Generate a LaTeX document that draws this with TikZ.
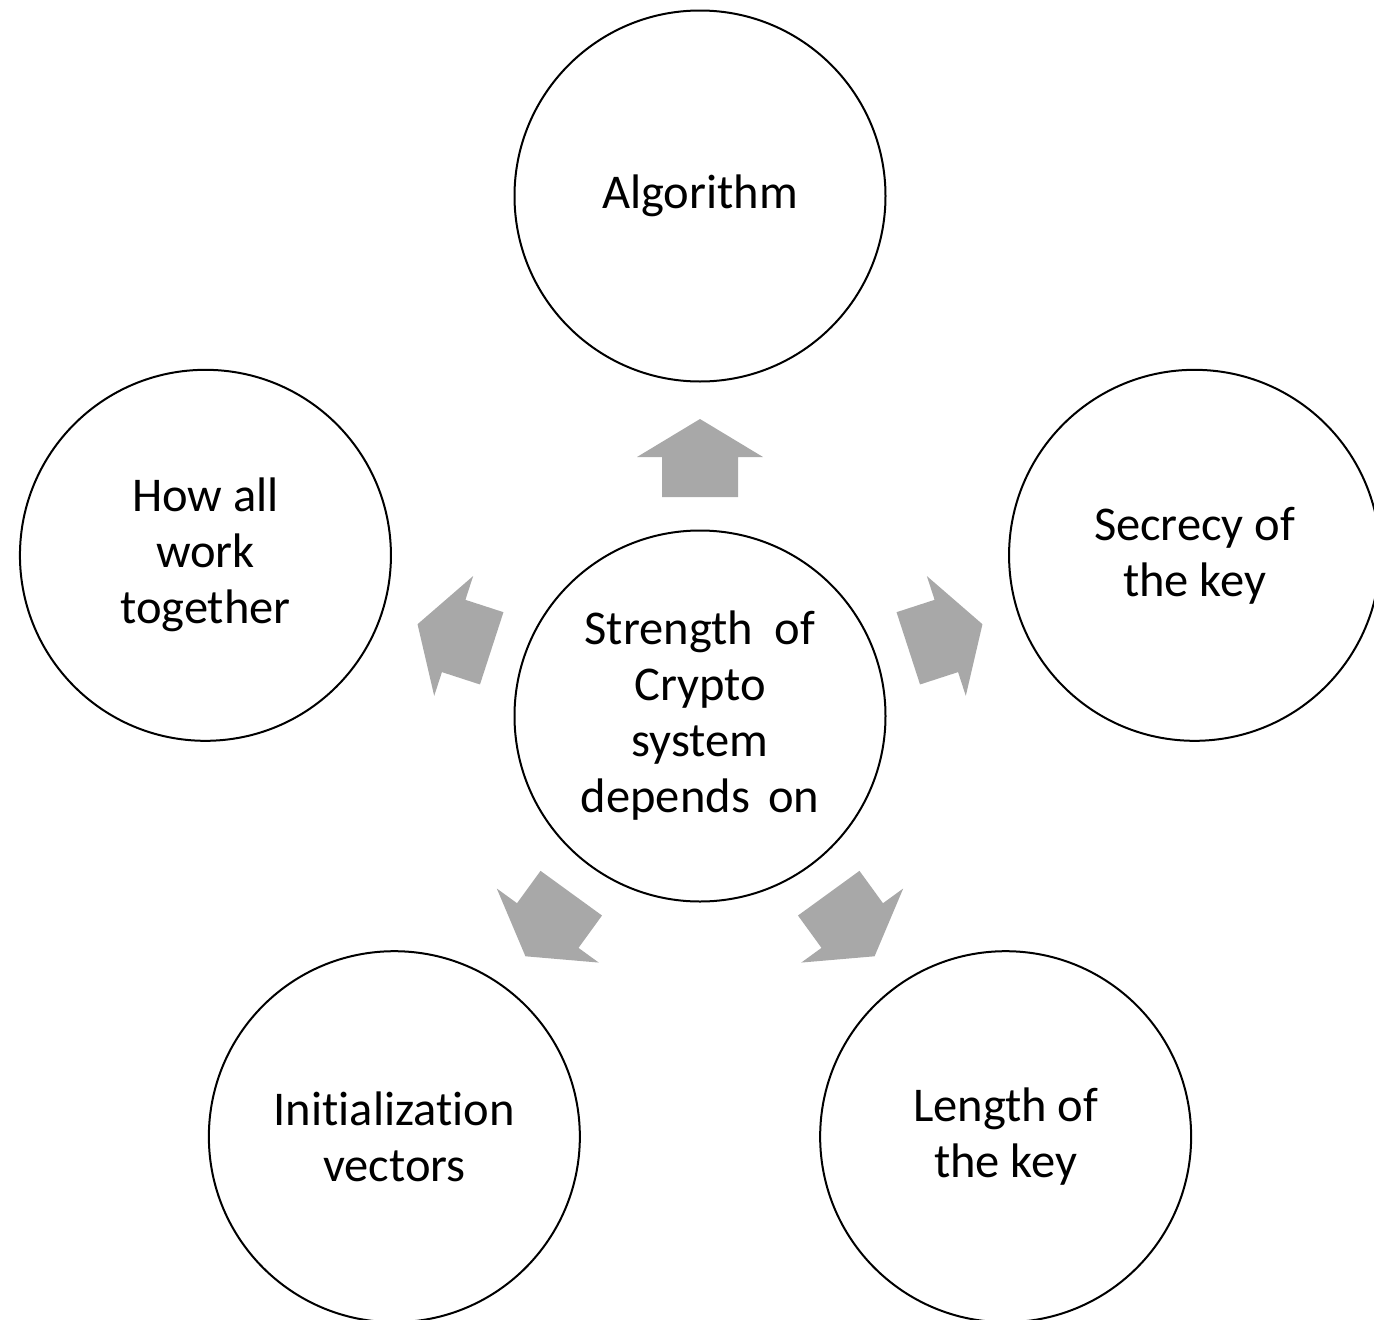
\documentclass[tikz,border=0pt]{standalone}
\usepackage{fontspec}
\setmainfont[Ligatures={NoCommon}]{Carlito}
\usetikzlibrary{calc}
\begin{document}
\begin{tikzpicture}[x=1pt,y=1pt,
  bubble/.style={circle, draw=black, line width=2pt, minimum size=371pt,
    inner sep=0pt, align=center, font=\fontsize{48.5}{56}\selectfont},
  blockarrow/.style={fill=arrowgray, draw=none}]
\definecolor{arrowgray}{RGB}{168,168,168}
\useasboundingbox (0,-1320) rectangle (1374,0);

% hub
\node[bubble] (hub) at (700,-716)
  {Strength\hspace{22pt}of\\Crypto\\system\\depends\hspace{18pt}on};

% satellites on a pentagon around the hub
\node[bubble] (alg) at ($(hub.center)+(90:520)$) {Algorithm};
\node[bubble] (sec) at ($(hub.center)+(18:520)$) {Secrecy of\\the key};
\node[bubble] (len) at ($(hub.center)+(-54:520)$) {Length of\\the key};
\node[bubble] (iv)  at ($(hub.center)+(-126:520)$) {Initialization\\vectors};
\node[bubble] (how) at ($(hub.center)+(162:520)$) {How all\\work\\together};

% block arrows pointing from the hub to each satellite
\foreach \ang in {90,18,-54,-126,162}{
  \begin{scope}[shift={(hub.center)}, rotate=\ang]
    \fill[blockarrow] (219,-38) -- (259,-38) -- (259,-63) -- (297,0)
      -- (259,63) -- (259,38) -- (219,38) -- cycle;
  \end{scope}
}
\end{tikzpicture}
\end{document}
